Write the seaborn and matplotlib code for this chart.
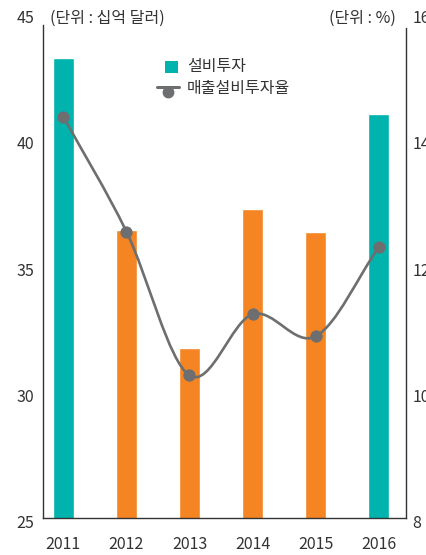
import numpy as np
import pandas as pd
import matplotlib
matplotlib.use("Agg")
import matplotlib.pyplot as plt
import matplotlib.transforms as mtransforms
from matplotlib.path import Path
from matplotlib.patches import PathPatch, Rectangle
from matplotlib.lines import Line2D
import seaborn as sns

# 연도별 설비투자(십억 달러)와 매출설비투자율(%)
years = ["2011", "2012", "2013", "2014", "2015", "2016"]
capex = [43.2, 36.4, 31.7, 37.2, 36.3, 41.0]
capex_ratio = [14.35, 12.53, 10.25, 11.22, 10.87, 12.28]
left_ticks = [25, 30, 35, 40, 45]
right_ticks = [8, 10, 12, 14, 16]

TEAL = "#00b3ad"
ORANGE = "#f58423"
GRAY = "#6d6e70"
TEXT = "#333333"
bar_colors = [TEAL, ORANGE, ORANGE, ORANGE, ORANGE, TEAL]

sns.set_theme(style="white")
plt.rcParams["font.family"] = ["Noto Sans CJK KR", "DejaVu Sans"]

W, H = 427, 555
fig = plt.figure(figsize=(W / 100, H / 100), dpi=100)
ax = fig.add_axes([42.7 / W, 1 - 517.5 / H, (406 - 42.7) / W, (517.5 - 12.5) / H])

df = pd.DataFrame({"year": years, "capex": capex, "ratio": capex_ratio})
sns.barplot(data=df, x="year", y="capex", hue="year", palette=bar_colors,
            legend=False, width=1 / 3, saturation=1, ax=ax)
ax.set_xlim(-0.327, 5.433)
ax.set_ylim(25, 45)
ax.set_yticks(left_ticks)
ax.set_xlabel("")
ax.set_ylabel("")

# 오른쪽 축: 매출설비투자율 (부드러운 곡선 + 점)
ax2 = ax.twinx()
ax2.set_ylim(8, 16)
ax2.set_yticks(right_ticks)

xs = np.arange(len(capex_ratio), dtype=float)
ys = np.asarray(capex_ratio, dtype=float)
n = len(xs)
slopes = np.empty(n)
slopes[0] = ys[1] - ys[0]
slopes[-1] = ys[-1] - ys[-2]
slopes[1:-1] = (ys[2:] - ys[:-2]) / 2
verts = [(xs[0], ys[0])]
codes = [Path.MOVETO]
for i in range(n - 1):
    verts += [(xs[i] + 1 / 3, ys[i] + slopes[i] / 3),
              (xs[i + 1] - 1 / 3, ys[i + 1] - slopes[i + 1] / 3),
              (xs[i + 1], ys[i + 1])]
    codes += [Path.CURVE4] * 3
ax2.add_patch(PathPatch(Path(verts, codes), fill=False, edgecolor=GRAY,
                        lw=1.9, capstyle="round", zorder=3))
sns.scatterplot(x=xs, y=ys, ax=ax2, s=78, color=GRAY, linewidth=0, zorder=4)

# 축선과 눈금
for a in (ax, ax2):
    for side in ("top",):
        a.spines[side].set_visible(False)
ax.spines["right"].set_visible(False)
ax2.spines["left"].set_visible(False)
ax2.spines["bottom"].set_visible(False)
for a, side in ((ax, "left"), (ax, "bottom"), (ax2, "right")):
    a.spines[side].set_color(TEXT)
    a.spines[side].set_linewidth(1.0)
ax.spines["left"].set_bounds(25, 44.5)
ax2.spines["right"].set_bounds(8, 15.76)

ax.tick_params(axis="y", length=0, pad=6.0, labelsize=11.5, labelcolor=TEXT)
ax.tick_params(axis="x", length=0, pad=13, labelsize=11.5, labelcolor=TEXT)
ax2.tick_params(axis="y", length=0, pad=4.5, labelsize=11.5, labelcolor=TEXT)

shift = mtransforms.ScaledTranslation(0, -4 / 100, fig.dpi_scale_trans)
for lab in ax.get_yticklabels() + ax2.get_yticklabels():
    lab.set_transform(lab.get_transform() + shift)

# 단위 표기
fig.text(50 / W, 1 - 18 / H, "(단위 : 십억 달러)", ha="left", va="center",
         fontsize=11.5, color=TEXT)
fig.text(396 / W, 1 - 18 / H, "(단위 : %)", ha="right", va="center",
         fontsize=11.5, color=TEXT)

# 범례
fig.add_artist(Rectangle((165 / W, 1 - 72.5 / H), 13.5 / W, 12 / H,
                         transform=fig.transFigure, facecolor=TEAL, edgecolor="none"))
fig.text(187 / W, 1 - 66.5 / H, "설비투자", ha="left", va="center",
         fontsize=11.5, color=TEXT)
fig.add_artist(Line2D([156.7 / W, 179 / W], [1 - 87.3 / H] * 2,
                      transform=fig.transFigure, color=GRAY, lw=2.2))
fig.add_artist(Line2D([168.3 / W], [1 - 91.5 / H], transform=fig.transFigure,
                      marker="o", markersize=7.5, color=GRAY, linestyle="none"))
fig.text(187 / W, 1 - 88.3 / H, "매출설비투자율", ha="left", va="center",
         fontsize=11.5, color=TEXT)

fig.savefig("out.png", dpi=100, facecolor="white")
